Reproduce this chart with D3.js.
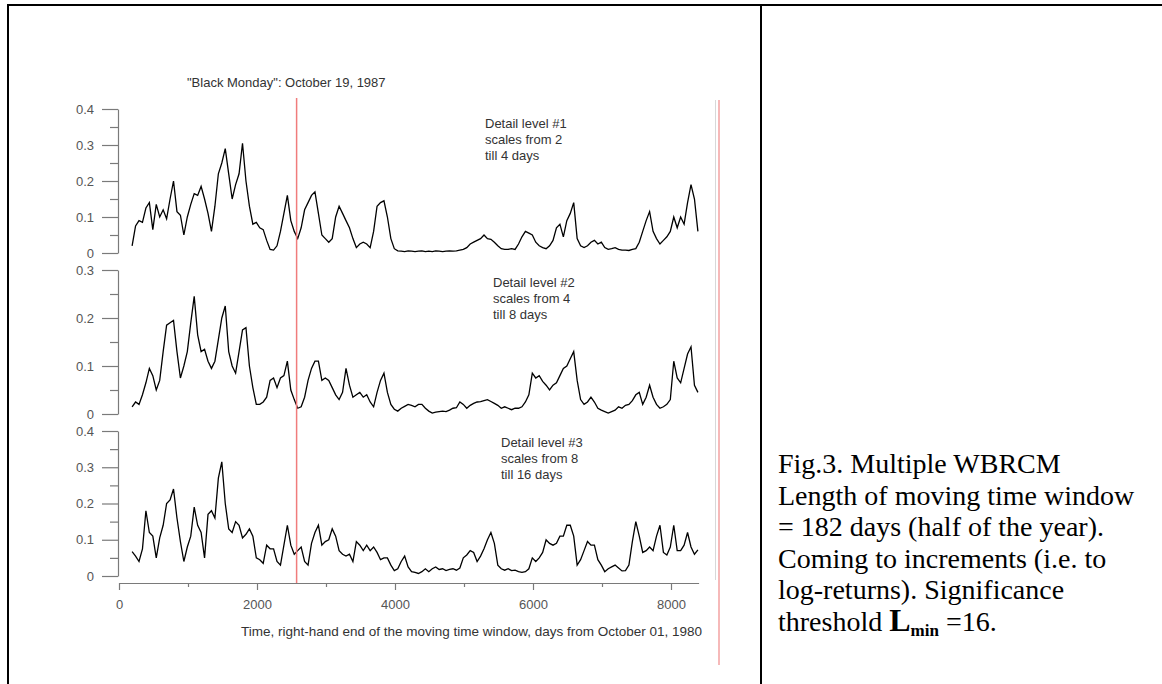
<!DOCTYPE html>
<html>
<head>
<meta charset="utf-8">
<script src="https://cdn.jsdelivr.net/npm/d3@7"></script>
<style>
  html, body { margin: 0; padding: 0; background: #fff; }
  svg { display: block; }
</style>
</head>
<body>
<svg id="chart" width="1162" height="684"></svg>
<script>
// ---------------- DATA ----------------
const days = d3.range(190, 8391, 50); // right-hand end of the moving window, days from Oct 01 1980
const detail1 = [
  0.02, 0.075, 0.09, 0.085, 0.125, 0.14, 0.065, 0.135, 0.1, 0.12,
  0.095, 0.15, 0.2, 0.115, 0.105, 0.05, 0.1, 0.135, 0.165, 0.16,
  0.185, 0.15, 0.11, 0.06, 0.13, 0.22, 0.25, 0.29, 0.22, 0.15,
  0.19, 0.22, 0.305, 0.2, 0.13, 0.08, 0.085, 0.07, 0.065, 0.035,
  0.01, 0.008, 0.02, 0.06, 0.11, 0.16, 0.09, 0.06, 0.04, 0.07,
  0.12, 0.14, 0.16, 0.17, 0.11, 0.05, 0.04, 0.03, 0.04, 0.1,
  0.13, 0.11, 0.09, 0.07, 0.04, 0.015, 0.025, 0.03, 0.025, 0.015,
  0.06, 0.13, 0.14, 0.145, 0.1, 0.04, 0.012, 0.006, 0.005, 0.004,
  0.006, 0.005, 0.004, 0.005, 0.006, 0.004, 0.005, 0.004, 0.006, 0.005,
  0.004, 0.005, 0.006, 0.005, 0.006, 0.008, 0.01, 0.015, 0.025, 0.03,
  0.035, 0.04, 0.05, 0.04, 0.038, 0.03, 0.02, 0.012, 0.01, 0.01,
  0.012, 0.01, 0.025, 0.045, 0.06, 0.055, 0.05, 0.03, 0.02, 0.015,
  0.012, 0.02, 0.035, 0.07, 0.08, 0.045, 0.09, 0.11, 0.14, 0.04,
  0.02, 0.015, 0.02, 0.03, 0.035, 0.025, 0.03, 0.015, 0.01, 0.012,
  0.015, 0.01, 0.008, 0.008, 0.007, 0.01, 0.012, 0.03, 0.06, 0.09,
  0.115, 0.06, 0.04, 0.025, 0.035, 0.045, 0.06, 0.1, 0.07, 0.1,
  0.08, 0.14, 0.19, 0.15, 0.06
];
const detail2 = [
  0.015, 0.025, 0.02, 0.04, 0.065, 0.095, 0.08, 0.05, 0.07, 0.13,
  0.185, 0.19, 0.195, 0.13, 0.075, 0.1, 0.13, 0.19, 0.245, 0.165,
  0.13, 0.135, 0.11, 0.095, 0.11, 0.155, 0.2, 0.225, 0.13, 0.1,
  0.085, 0.13, 0.175, 0.18, 0.1, 0.055, 0.02, 0.02, 0.025, 0.035,
  0.07, 0.075, 0.055, 0.075, 0.08, 0.11, 0.05, 0.03, 0.012, 0.015,
  0.035, 0.07, 0.095, 0.11, 0.11, 0.07, 0.075, 0.07, 0.055, 0.04,
  0.03, 0.045, 0.095, 0.06, 0.035, 0.04, 0.045, 0.035, 0.04, 0.025,
  0.015, 0.045, 0.07, 0.085, 0.045, 0.02, 0.01, 0.006, 0.012, 0.016,
  0.02, 0.018, 0.015, 0.02, 0.02, 0.012, 0.006, 0.002, 0.004, 0.005,
  0.006, 0.005, 0.008, 0.012, 0.013, 0.025, 0.02, 0.012, 0.018, 0.022,
  0.025, 0.026, 0.028, 0.03, 0.026, 0.022, 0.018, 0.012, 0.015, 0.012,
  0.009, 0.012, 0.012, 0.015, 0.025, 0.04, 0.085, 0.075, 0.08, 0.068,
  0.06, 0.05, 0.06, 0.065, 0.08, 0.095, 0.1, 0.115, 0.13, 0.07,
  0.03, 0.02, 0.025, 0.035, 0.025, 0.012, 0.008, 0.005, 0.002, 0.005,
  0.008, 0.015, 0.012, 0.018, 0.02, 0.028, 0.04, 0.045, 0.02, 0.035,
  0.06, 0.035, 0.02, 0.012, 0.015, 0.02, 0.03, 0.11, 0.075, 0.065,
  0.095, 0.125, 0.14, 0.06, 0.045
];
const detail3 = [
  0.067, 0.055, 0.04, 0.075, 0.18, 0.12, 0.11, 0.05, 0.105, 0.14,
  0.2, 0.21, 0.24, 0.16, 0.095, 0.04, 0.08, 0.11, 0.19, 0.14,
  0.12, 0.05, 0.17, 0.18, 0.16, 0.27, 0.315, 0.2, 0.13, 0.12,
  0.15, 0.14, 0.105, 0.115, 0.13, 0.11, 0.05, 0.045, 0.035, 0.085,
  0.075, 0.075, 0.04, 0.03, 0.085, 0.14, 0.085, 0.06, 0.07, 0.08,
  0.04, 0.03, 0.09, 0.12, 0.14, 0.085, 0.095, 0.1, 0.13, 0.11,
  0.07, 0.06, 0.055, 0.06, 0.04, 0.095, 0.085, 0.07, 0.085, 0.07,
  0.08, 0.065, 0.045, 0.05, 0.05, 0.03, 0.015, 0.02, 0.04, 0.055,
  0.025, 0.012, 0.01, 0.007, 0.012, 0.02, 0.012, 0.02, 0.025, 0.018,
  0.02, 0.015, 0.018, 0.02, 0.016, 0.022, 0.05, 0.058, 0.07, 0.065,
  0.04, 0.055, 0.075, 0.1, 0.12, 0.09, 0.03, 0.02, 0.016, 0.02,
  0.015, 0.016, 0.012, 0.01, 0.012, 0.02, 0.05, 0.04, 0.05, 0.065,
  0.1, 0.09, 0.085, 0.09, 0.11, 0.11, 0.14, 0.14, 0.11, 0.03,
  0.045, 0.07, 0.095, 0.085, 0.085, 0.045, 0.03, 0.012, 0.02, 0.025,
  0.03, 0.022, 0.014, 0.015, 0.03, 0.095, 0.15, 0.11, 0.065, 0.07,
  0.08, 0.07, 0.11, 0.14, 0.065, 0.058, 0.08, 0.14, 0.07, 0.07,
  0.085, 0.12, 0.08, 0.06, 0.072
];
const panelLabels = [
  ["Detail level #1", "scales from 2", "till 4 days"],
  ["Detail level #2", "scales from 4", "till 8 days"],
  ["Detail level #3", "scales from 8", "till 16 days"]
];
const panelMax = [0.4, 0.3, 0.4];
const xTicks = [0, 2000, 4000, 6000, 8000];
const xMinorTicks = [1000, 3000, 5000, 7000];
const blackMonday = 2574; // Oct 19 1987, days from Oct 01 1980
const titleText = "\"Black Monday\": October 19, 1987";
const xTitle = "Time, right-hand end of the moving time window, days from October 01, 1980";
const captionLines = [
  "Fig.3. Multiple WBRCM",
  "Length of moving time window",
  "= 182 days (half of the year).",
  "Coming to increments (i.e. to",
  "log-returns). Significance"
];

// ---------------- DRAW ----------------
const svg = d3.select("#chart");
const sans = "Arial, 'Liberation Sans', sans-serif";
const serif = "'Times New Roman', 'Liberation Serif', serif";

// table borders
svg.append("line").attr("x1", 7).attr("x2", 1162).attr("y1", 5).attr("y2", 5).attr("stroke", "#000").attr("stroke-width", 2);
svg.append("line").attr("x1", 8).attr("x2", 8).attr("y1", 4).attr("y2", 684).attr("stroke", "#000").attr("stroke-width", 2);
svg.append("line").attr("x1", 761).attr("x2", 761).attr("y1", 4).attr("y2", 684).attr("stroke", "#000").attr("stroke-width", 2);

const x = d3.scaleLinear().domain([0, 8400]).range([119, 698.6]);
const panelRanges = [[253, 109], [414, 270], [576, 431]];
const series = [detail1, detail2, detail3];
const labelPos = [[485, 128], [493, 287], [501, 447]];

// right-side image frame lines
svg.append("line").attr("x1", 715.5).attr("x2", 715.5).attr("y1", 100).attr("y2", 580).attr("stroke", "#d8d8d8").attr("stroke-width", 1);
svg.append("line").attr("x1", 719).attr("x2", 719).attr("y1", 100).attr("y2", 665).attr("stroke", "#f08a8a").attr("stroke-width", 1.2);

series.forEach((vals, k) => {
  const y = d3.scaleLinear().domain([0, panelMax[k]]).range(panelRanges[k]);
  const major = d3.range(0, panelMax[k] + 1e-9, 0.1).map(v => +v.toFixed(2));
  const minor = d3.range(0.05, panelMax[k], 0.1).map(v => +v.toFixed(2));
  const g = svg.append("g").attr("transform", "translate(118,0)");
  g.call(d3.axisLeft(y).tickValues(major).tickSize(16).tickSizeOuter(0).tickPadding(8)
      .tickFormat(v => v === 0 ? "0" : d3.format(".1f")(v)));
  const gm = svg.append("g").attr("transform", "translate(118,0)");
  gm.call(d3.axisLeft(y).tickValues(minor).tickSize(8).tickSizeOuter(0).tickFormat(""));
  gm.select(".domain").remove();
  [g, gm].forEach(a => {
    a.selectAll("path,line").attr("stroke", "#7a7a7a").attr("stroke-width", 1.2);
    a.selectAll("text").attr("font-family", sans).attr("font-size", 13).attr("fill", "#555");
  });

  const line = d3.line().x((d, i) => x(days[i])).y(d => y(d));
  svg.append("path").datum(vals).attr("d", line)
    .attr("fill", "none").attr("stroke", "#000").attr("stroke-width", 1.3).attr("stroke-linejoin", "miter");

  const t = svg.append("text").attr("font-family", sans).attr("font-size", 13).attr("fill", "#333");
  panelLabels[k].forEach((s, j) => {
    t.append("tspan").attr("x", labelPos[k][0]).attr("y", labelPos[k][1] + j * 16).text(s);
  });
});

// x axis
const gx = svg.append("g").attr("transform", "translate(0,583)");
gx.call(d3.axisBottom(x).tickValues(xTicks).tickSize(7).tickSizeOuter(0).tickPadding(10).tickFormat(d3.format("d")));
const gxm = svg.append("g").attr("transform", "translate(0,583)");
gxm.call(d3.axisBottom(x).tickValues(xMinorTicks).tickSize(4).tickSizeOuter(0).tickFormat(""));
gxm.select(".domain").remove();
[gx, gxm].forEach(a => {
  a.selectAll("path,line").attr("stroke", "#7a7a7a").attr("stroke-width", 1.2);
  a.selectAll("text").attr("font-family", sans).attr("font-size", 13).attr("fill", "#555");
});

// Black Monday marker
svg.append("line").attr("x1", x(blackMonday)).attr("x2", x(blackMonday)).attr("y1", 98).attr("y2", 583)
  .attr("stroke", "#f07c7c").attr("stroke-width", 1.5);

svg.append("text").attr("x", 187).attr("y", 87).attr("font-family", sans).attr("font-size", 13)
  .attr("fill", "#333").text(titleText);
svg.append("text").attr("x", 241).attr("y", 636).attr("font-family", sans).attr("font-size", 13.5)
  .attr("fill", "#333").text(xTitle);

// caption (right cell)
const capX = 778, capY0 = 473, capDy = 31.6;
captionLines.forEach((s, j) => {
  svg.append("text").attr("x", capX).attr("y", capY0 + j * capDy).attr("font-family", serif)
    .attr("font-size", 28).attr("fill", "#000").text(s);
});
const last = svg.append("text").attr("x", capX).attr("y", capY0 + 5 * capDy).attr("font-family", serif)
  .attr("font-size", 28).attr("fill", "#000");
last.append("tspan").text("threshold ");
last.append("tspan").attr("font-weight", "bold").attr("font-size", 32).text("L");
last.append("tspan").attr("font-weight", "bold").attr("font-size", 17).attr("dy", 5).text("min");
last.append("tspan").attr("dy", -5).text(" =16.");
</script>
</body>
</html>
